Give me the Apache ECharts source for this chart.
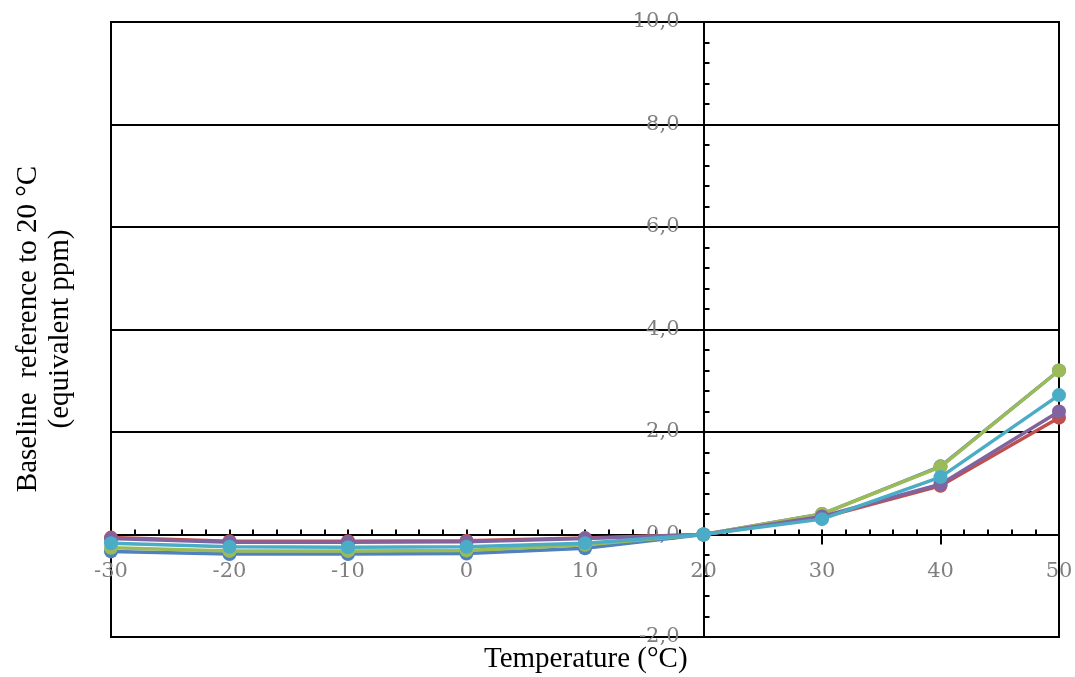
<!DOCTYPE html>
<html>
<head>
<meta charset="utf-8">
<script src="https://cdn.jsdelivr.net/npm/echarts@6/dist/echarts.min.js"></script>
<style>
html,body{margin:0;padding:0;background:#fff;}
#chart{width:1075px;height:677px;}
</style>
</head>
<body>
<div id="chart"></div>
<script>
var temperatures = [-30, -20, -10, 0, 10, 20, 30, 40, 50];
var seriesBlue   = [-0.33, -0.38, -0.38, -0.37, -0.27, 0, 0.40, 1.33, 3.20];
var seriesRed    = [-0.06, -0.13, -0.13, -0.12, -0.07, 0, 0.33, 0.95, 2.28];
var seriesGreen  = [-0.26, -0.32, -0.32, -0.31, -0.20, 0, 0.40, 1.32, 3.20];
var seriesPurple = [-0.08, -0.15, -0.15, -0.14, -0.08, 0, 0.35, 0.98, 2.40];
var seriesCyan   = [-0.17, -0.24, -0.25, -0.24, -0.17, 0, 0.30, 1.12, 2.72];
var xTitle = 'Temperature (°C)';
var yTitle1 = 'Baseline  reference to 20 °C';
var yTitle2 = '(equivalent ppm)';

function pairs(vals){ return temperatures.map(function(t,i){ return [t, vals[i]]; }); }

var chart = echarts.init(document.getElementById('chart'));
var labelFont = {color:'#7f7f7f', fontFamily:'DejaVu Serif', fontSize:21};
function mk(name, color, vals, z){
  return {name:name, type:'line', data:pairs(vals), symbol:'circle', symbolSize:14,
    itemStyle:{color:color}, lineStyle:{color:color, width:3.5}, z:z, animation:false};
}
chart.setOption({
  backgroundColor:'#fff',
  animation:false,
  grid:{left:111, right:16, top:22, bottom:40, show:true, borderColor:'#000', borderWidth:2,
        backgroundColor:'transparent', containLabel:false, outerBoundsMode:'none'},
  xAxis:[{
    type:'value', min:-30, max:50, interval:10,
    axisLine:{show:true, onZero:true, onZeroAxisIndex:0, lineStyle:{color:'#000', width:2}},
    axisTick:{show:true, inside:false, length:10, lineStyle:{color:'#000', width:2}},
    axisLabel:{show:false},
    splitLine:{show:false}
  },{
    type:'value', min:-30, max:50, interval:2, position:'bottom',
    axisLine:{show:true, onZero:true, onZeroAxisIndex:0, lineStyle:{color:'#000', width:2, opacity:0}},
    axisTick:{show:true, inside:true, length:5, lineStyle:{color:'#000', width:2}},
    axisLabel:{show:false},
    splitLine:{show:false}
  },{
    type:'value', min:-30, max:50, interval:10, position:'bottom',
    axisLine:{show:false, onZero:false},
    axisTick:{show:false},
    axisLabel:Object.assign({margin:-76}, labelFont),
    splitLine:{show:false}
  }],
  yAxis:{
    type:'value', min:-2, max:10, interval:2, position:'left', offset:-592.5,
    axisLine:{show:true, onZero:false, lineStyle:{color:'#000', width:2}},
    axisTick:{show:true, inside:true, length:6, lineStyle:{color:'#000', width:2}},
    minorTick:{show:true, splitNumber:5, length:6, lineStyle:{color:'#000', width:2}},
    axisLabel:Object.assign({margin:24, padding:[10,0,0,0], formatter:function(v){return v.toFixed(1).replace('.', ',');}}, labelFont),
    splitLine:{show:true, lineStyle:{color:'#000', width:2}}
  },
  graphic:[
    {type:'text', x:484, y:645, style:{text:xTitle, font:'29px "Liberation Serif"', fill:'#000'}},
    {type:'text', x:28, y:329, rotation:Math.PI/2, style:{text:yTitle1, font:'29px "Liberation Serif"', fill:'#000', align:'center', verticalAlign:'middle'}},
    {type:'text', x:60, y:329, rotation:Math.PI/2, style:{text:yTitle2, font:'29px "Liberation Serif"', fill:'#000', align:'center', verticalAlign:'middle'}}
  ],
  series:[
    mk('Blue', '#4F81BD', seriesBlue, 2),
    mk('Red', '#C0504D', seriesRed, 3),
    mk('Green', '#9BBB59', seriesGreen, 4),
    mk('Purple', '#8064A2', seriesPurple, 5),
    mk('Cyan', '#4BACC6', seriesCyan, 6)
  ]
});
</script>
</body>
</html>
